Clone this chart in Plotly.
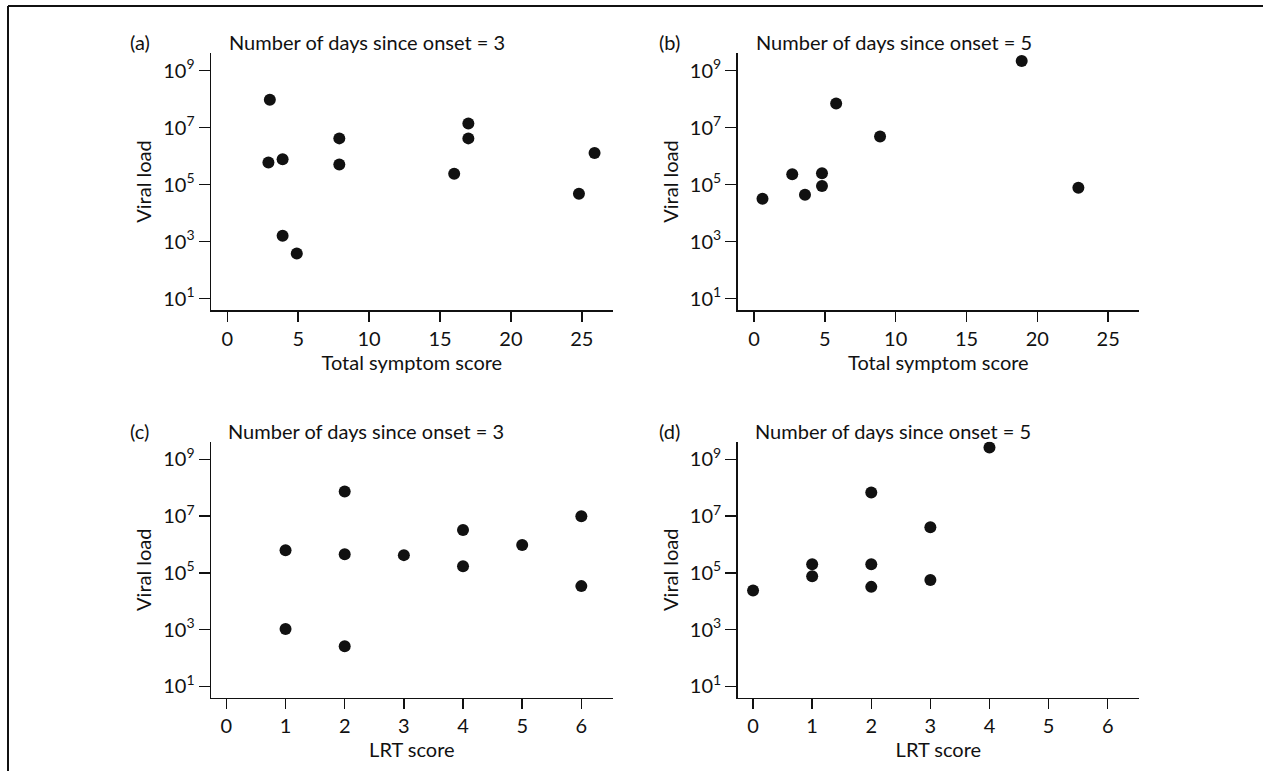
import plotly.graph_objects as go

# ---------------- data ----------------
# (a) Total symptom score vs viral load, day 3
a_score = [3.0, 2.9, 3.9, 3.9, 4.9, 7.9, 7.9, 16.0, 17.0, 17.0, 24.8, 25.9]
a_load = [9.5e7, 6.0e5, 7.8e5, 1.6e3, 3.8e2, 4.2e6, 5.1e5, 2.4e5, 1.4e7, 4.2e6, 4.8e4, 1.3e6]

# (b) Total symptom score vs viral load, day 5
b_score = [18.9, 5.8, 8.9, 2.7, 4.8, 4.8, 3.6, 0.6, 22.9]
b_load = [2.2e9, 7.0e7, 4.9e6, 2.3e5, 2.5e5, 9.0e4, 4.4e4, 3.2e4, 7.8e4]

# (c) LRT score vs viral load, day 3
c_score = [2, 1, 2, 3, 4, 4, 5, 1, 2, 6, 6]
c_load = [7.4e7, 6.2e5, 4.5e5, 4.2e5, 3.2e6, 1.7e5, 9.5e5, 1.05e3, 2.6e2, 9.8e6, 3.4e4]

# (d) LRT score vs viral load, day 5
d_score = [4, 2, 3, 1, 1, 2, 2, 3, 0]
d_load = [2.6e9, 6.7e7, 4.0e6, 2.0e5, 7.6e4, 2.0e5, 3.2e4, 5.6e4, 2.4e4]

panel_letters = ["(a)", "(b)", "(c)", "(d)"]
panel_titles = ["Number of days since onset = 3", "Number of days since onset = 5",
                "Number of days since onset = 3", "Number of days since onset = 5"]
x_titles = ["Total symptom score", "Total symptom score", "LRT score", "LRT score"]
y_title = "Viral load"

symptom_ticks = [0, 5, 10, 15, 20, 25]
lrt_ticks = [0, 1, 2, 3, 4, 5, 6]
y_tick_exps = [1, 3, 5, 7, 9]

# ---------------- layout geometry ----------------
W, H = 1263, 771
FONT = "Lato"
FS = 20
BLACK = "#111111"


def px_x(p):
    return p / W


def px_y(p):
    return 1 - p / H


x_domains = [(211, 612.7), (737.7, 1139), (211, 612.7), (737.7, 1139)]
y_domains = [(53, 310), (53, 310), (441.7, 697.7), (441.7, 697.7)]
x_ranges = [(-1.15, 27.18), (-1.15, 27.18), (-0.26, 6.53), (-0.26, 6.53)]
y_range = (0.6, 9.62)

series = [(a_score, a_load), (b_score, b_load), (c_score, c_load), (d_score, d_load)]
tick_sets = [symptom_ticks, symptom_ticks, lrt_ticks, lrt_ticks]

fig = go.Figure()

layout = dict(
    width=W, height=H,
    margin=dict(l=0, r=0, t=0, b=0),
    paper_bgcolor="white", plot_bgcolor="white",
    showlegend=False,
    font=dict(family=FONT, size=FS, color=BLACK),
)

annotations = []
for i in range(4):
    n = "" if i == 0 else str(i + 1)
    xs, ys = series[i]
    fig.add_trace(go.Scatter(
        x=xs, y=ys, mode="markers",
        marker=dict(size=12, color=BLACK, line=dict(width=0)),
        xaxis="x" + n, yaxis="y" + n,
    ))
    layout["xaxis" + n] = dict(
        domain=[px_x(x_domains[i][0]), px_x(x_domains[i][1])],
        anchor="y" + n,
        range=list(x_ranges[i]),
        tickmode="array", tickvals=tick_sets[i],
        ticktext=[str(t) for t in tick_sets[i]],
        ticks="outside", ticklen=10, tickwidth=1.5, tickcolor=BLACK,
        showline=True, linewidth=1.5, linecolor=BLACK,
        showgrid=False, zeroline=False,
        tickfont=dict(family=FONT, size=FS, color=BLACK),
        title=dict(text=x_titles[i], font=dict(family=FONT, size=FS, color=BLACK), standoff=4),
        fixedrange=True,
    )
    layout["yaxis" + n] = dict(
        domain=[px_y(y_domains[i][1]), px_y(y_domains[i][0])],
        anchor="x" + n,
        type="log",
        range=list(y_range),
        tickmode="array", tickvals=[10 ** e for e in y_tick_exps],
        ticktext=["10<sup>%d</sup>" % e for e in y_tick_exps],
        ticks="outside", ticklen=11, tickwidth=1.5, tickcolor=BLACK,
        showline=True, linewidth=1.5, linecolor=BLACK,
        showgrid=False, zeroline=False,
        tickfont=dict(family=FONT, size=FS, color=BLACK),
        title=dict(text=y_title, font=dict(family=FONT, size=FS, color=BLACK), standoff=6),
        fixedrange=True,
    )
    top = y_domains[i][0]
    annotations.append(dict(
        text=panel_letters[i], xref="paper", yref="paper",
        x=px_x(x_domains[i][0] - 83 if i % 2 == 0 else x_domains[i][0] - 81),
        y=px_y(top - 11), xanchor="left", yanchor="middle", showarrow=False,
        font=dict(family=FONT, size=FS, color=BLACK),
    ))
    annotations.append(dict(
        text=panel_titles[i], xref="x" + n, yref="paper",
        x=0, y=px_y(top - 11), xanchor="left", yanchor="middle", showarrow=False,
        font=dict(family=FONT, size=FS, color=BLACK),
    ))

layout["annotations"] = annotations
layout["shapes"] = [
    dict(type="line", xref="paper", yref="paper", x0=px_x(8), x1=1, y0=px_y(6), y1=px_y(6),
         line=dict(color=BLACK, width=2)),
    dict(type="line", xref="paper", yref="paper", x0=px_x(8), x1=px_x(8), y0=px_y(6), y1=0,
         line=dict(color=BLACK, width=2)),
]

fig.update_layout(**layout)
fig.write_html(
    "out.html",
    config={"displayModeBar": False, "staticPlot": True},
    post_script="document.body.style.margin='0';document.body.style.overflow='hidden';",
)
